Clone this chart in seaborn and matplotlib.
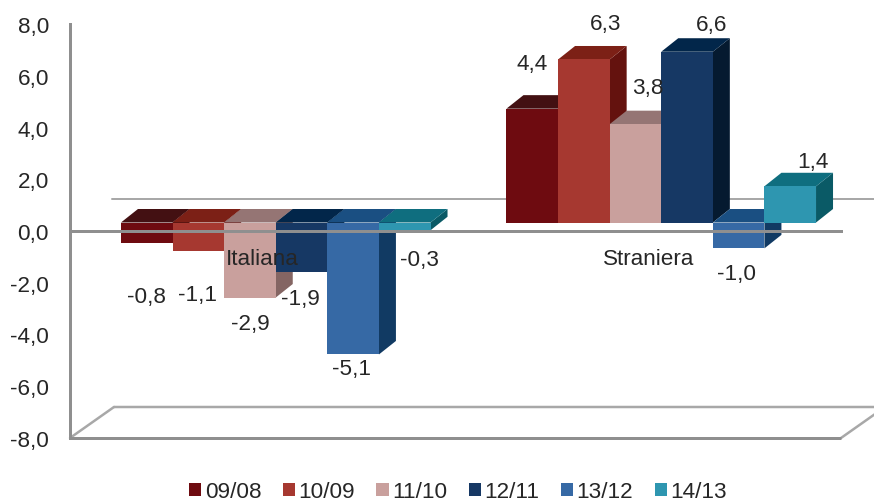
import matplotlib
matplotlib.use("Agg")
import matplotlib.pyplot as plt
from matplotlib.patches import Polygon
from matplotlib.lines import Line2D
from matplotlib.transforms import Affine2D
import pandas as pd
import seaborn as sns

# Variation by citizenship and period
groups = ["Italiana", "Straniera"]
periods = ["09/08", "10/09", "11/10", "12/11", "13/12", "14/13"]
italiana = [-0.8, -1.1, -2.9, -1.9, -5.1, -0.3]
straniera = [4.4, 6.3, 3.8, 6.6, -1.0, 1.4]
y_ticks = [-8, -6, -4, -2, 0, 2, 4, 6, 8]

# Colours of the front, top and side faces of each series
front_colors = ["#6e0b10", "#a63830", "#c9a09d", "#163864", "#3669a5", "#2e96b0"]
top_colors = ["#431012", "#7c2016", "#957574", "#02264a", "#1a4f82", "#0f6e7f"]
side_colors = ["#3a0a0c", "#64120e", "#846563", "#051a30", "#113a63", "#0a5a66"]

# Value label nudges in pixels, relative to the bar end (same order as the series)
nudges_italiana = [(0, -53), (-1, -44), (0, -26), (-1, -27), (-2, -14), (15, -29)]
nudges_straniera = [(0, 45), (22, 36), (12, 37), (25, 27), (-2, -25), (23, 25)]

W, H = 874, 502
TEXT = "#262626"
AXIS = "#8f8f8f"
WALL = "#a8a8a8"
FONT = 16.2
PX = 72 / 100  # one pixel in points at this resolution

sns.set_style("white")
plt.rcParams["font.family"] = ["Liberation Sans", "DejaVu Sans"]

fig = plt.figure(figsize=(W / 100, H / 100), dpi=100)
left, right, top, bottom = 70, 841, 25, 439
rect = [left / W, (H - bottom) / H, (right - left) / W, (bottom - top) / H]

# The bar plane sits slightly up and to the right of the axis plane
shift_x, shift_y = 13, 8.5
ax_bars = fig.add_axes([rect[0] + shift_x / W, rect[1] + shift_y / H, rect[2], rect[3]], zorder=1)
ax = fig.add_axes(rect, zorder=2)
ax.patch.set_alpha(0)
ax_bars.patch.set_alpha(0)

df = pd.DataFrame({
    "gruppo": [g for g in groups for _ in periods],
    "periodo": periods * 2,
    "valore": italiana + straniera,
})
sns.barplot(data=df, x="gruppo", y="valore", hue="periodo", hue_order=periods,
            palette=front_colors, saturation=1, width=0.803, gap=0,
            errorbar=None, ax=ax_bars, linewidth=0)

for a in (ax, ax_bars):
    a.set_xlim(-0.5, 1.5)
    a.set_ylim(-8, 8)
ax_bars.axis("off")

# Extruded faces, built from each bar's own rectangle
depth_x, depth_y = 17, 13.5
unit_x = rect[2] * W / 2
unit_y = rect[3] * H / 16
dx, dy = depth_x / unit_x, depth_y / unit_y
for s, container in enumerate(ax_bars.containers):
    for bar in container:
        x0, x1 = bar.get_x(), bar.get_x() + bar.get_width()
        y_a, y_b = bar.get_y(), bar.get_y() + bar.get_height()
        high, low = max(y_a, y_b), min(y_a, y_b)
        z = 3 + s * 3
        ax_bars.add_patch(Polygon([(x1, low), (x1 + dx, low + dy), (x1 + dx, high + dy), (x1, high)],
                                  closed=True, fc=side_colors[s], ec="none", zorder=z))
        ax_bars.add_patch(Polygon([(x0, high), (x0 + dx, high + dy), (x1 + dx, high + dy), (x1, high)],
                                  closed=True, fc=top_colors[s], ec="none", zorder=z + 1))
        bar.set_zorder(z + 2)


def shifted(px_x, px_y):
    """Data transform of the axis plane, moved by a number of pixels."""
    return ax.transData + Affine2D().translate(px_x, px_y)


# Back wall base line and floor of the plot box
wall_off_x, wall_off_y, floor_x, floor_y = 42, 32, 44, 31
ax_bars.add_line(Line2D([-0.5, 1.6], [0, 0], color=WALL, lw=2 * PX, zorder=0, clip_on=False,
                        transform=shifted(wall_off_x, wall_off_y)))
floor_back = shifted(floor_x, floor_y)
ax_bars.add_line(Line2D([-0.5, 1.5], [-8, -8], color=WALL, lw=2.5 * PX, zorder=0, clip_on=False,
                        transform=floor_back))
for xpos in (-0.5, 1.5):
    p0 = ax.transData.transform((xpos, -8))
    p1 = floor_back.transform((xpos, -8))
    ax_bars.add_line(Line2D([p0[0], p1[0]], [p0[1], p1[1]], color=WALL, lw=2.5 * PX, zorder=0,
                            transform=None, clip_on=False))
ax.plot([-0.5, 1.5], [-8, -8], color=AXIS, lw=3 * PX, clip_on=False, solid_capstyle="butt")

# Axes drawn above the bars, as are the category names
sns.despine(ax=ax, top=True, right=True)
ax.spines["bottom"].set_position(("data", 0))
for side in ("left", "bottom"):
    ax.spines[side].set_color(AXIS)
    ax.spines[side].set_linewidth(3 * PX)
ax.set_yticks(y_ticks, [f"{v:.1f}".replace(".", ",") for v in y_ticks])
ax.set_xticks([0, 1], groups)
ax.set_xticks([-0.5, 0.5, 1.5], minor=True)
ax.tick_params(axis="x", which="major", length=0, pad=12, labelsize=FONT, labelcolor=TEXT)
ax.tick_params(axis="x", which="minor", length=5 * PX, width=3 * PX, color=AXIS, direction="out")
ax.tick_params(axis="y", length=5 * PX, width=3 * PX, color=AXIS, pad=11.5, labelsize=FONT, labelcolor=TEXT)
ax.set_xlabel("")
ax.set_ylabel("")

# Value labels
nudges = nudges_italiana + nudges_straniera
values = italiana + straniera
n = len(periods)
for s, container in enumerate(ax_bars.containers):
    for g, bar in enumerate(container):
        v = values[g * n + s]
        ax_bars.annotate(f"{v:.1f}".replace(".", ","),
                         xy=(bar.get_x() + bar.get_width() / 2, v),
                         xytext=nudges[g * n + s], textcoords="offset pixels",
                         ha="center", va="center", fontsize=FONT, color=TEXT,
                         zorder=40, annotation_clip=False)

handles, labels = ax_bars.get_legend_handles_labels()
ax_bars.get_legend().remove()
fig.legend(handles, labels, loc="center", bbox_to_anchor=(458 / W, 1 - 493 / H), ncol=6,
           frameon=False, fontsize=FONT, labelcolor=TEXT, handlelength=0.54, handleheight=0.54,
           handletextpad=0.16, columnspacing=0.95, borderpad=0, borderaxespad=0)

fig.savefig("out.png", dpi=100)
